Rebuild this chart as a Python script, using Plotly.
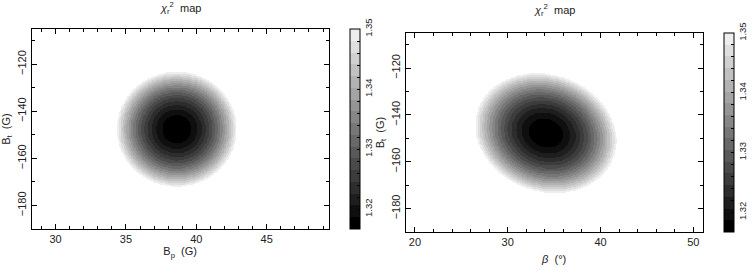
import numpy as np
import plotly.graph_objects as go

# ---- values ----
# colour scale of the chi_r^2 maps
chi_min = 1.3167
chi_max = 1.35
n_bands = 17

# left panel: chi_r^2 vs B_p (G) and B_t (G)
left_center = [38.6, -147.5]          # (B_p, B_t) of the minimum
left_halfwidth = [4.25, 24.4]         # extent where chi_r^2 reaches 1.35
left_xrange = [28.3, 49.4]

# right panel: chi_r^2 vs beta (deg) and B_t (G); tilted ellipse
right_center = [34.1, -147.7]         # (beta, B_t) of the minimum
right_quad = [0.01765, 0.00137, 0.00156]  # a*dx^2 + b*dx*dy + c*dy^2 (=1 on the 1.35 contour)
right_xrange = [19.0, 51.0]

y_range = [-190.0, -105.0]

cbar_tickvals = [1.318, 1.32, 1.322, 1.324, 1.326, 1.328, 1.33, 1.332, 1.334,
                 1.336, 1.338, 1.34, 1.342, 1.344, 1.346, 1.348, 1.35]
cbar_ticktext = ["", "1.32", "", "", "", "", "1.33", "", "", "", "", "1.34",
                 "", "", "", "", "1.35"]

title_text = "<i>χ</i><sub>r</sub><sup>2</sup>  map"
left_xtitle = "B<sub>p</sub>  (G)"
right_xtitle = "<i>β</i>  (°)"
ytitle = "B<sub>t</sub>  (G)"

# ---- build the maps ----
W, H = 753, 273
FONT = "Liberation Sans"
TXT = "#222222"

def grid(xr, yr, nx=420, ny=300):
    x = np.linspace(xr[0], xr[1], nx)
    y = np.linspace(yr[0], yr[1], ny)
    return x, y, np.meshgrid(x, y)

xl, yl, (XL, YL) = grid(left_xrange, y_range)
ql = ((XL - left_center[0]) / left_halfwidth[0]) ** 2 + ((YL - left_center[1]) / left_halfwidth[1]) ** 2
zl = chi_min + (chi_max - chi_min) * ql
zl = np.where(zl > chi_max, np.nan, zl)

xr_, yr_, (XR, YR) = grid(right_xrange, y_range)
dx = XR - right_center[0]
dy = YR - right_center[1]
qr = right_quad[0] * dx ** 2 + right_quad[1] * dx * dy + right_quad[2] * dy ** 2
zr = chi_min + (chi_max - chi_min) * qr
zr = np.where(zr > chi_max, np.nan, zr)

# discrete grey colour scale
cs = []
for i in range(n_bands):
    g = int(round(238 * i / (n_bands - 1)))
    c = f"rgb({g},{g},{g})"
    cs.append([i / n_bands, c])
    cs.append([(i + 1) / n_bands, c])

def cbar(x0, ycen, length):
    return dict(
        x=x0 / W, xanchor="left", y=1 - ycen / H, yanchor="middle",
        len=length / H, lenmode="fraction", thickness=10, thicknessmode="pixels",
        outlinewidth=1, outlinecolor="black", ticks="inside", ticklen=3,
        tickcolor="black", tickvals=cbar_tickvals, ticktext=cbar_ticktext,
        tickangle=-90, tickfont=dict(family=FONT, size=9.5, color=TXT),
        xpad=0, ypad=0, ticklabelposition="outside",
    )

fig = go.Figure()
fig.add_trace(go.Heatmap(x=xl, y=yl, z=zl, zmin=chi_min, zmax=chi_max,
                         colorscale=cs, colorbar=cbar(348, 129, 200),
                         xaxis="x", yaxis="y", hoverongaps=False))
fig.add_trace(go.Heatmap(x=xr_, y=yr_, z=zr, zmin=chi_min, zmax=chi_max,
                         colorscale=cs, colorbar=cbar(727, 132.5, 199),
                         xaxis="x2", yaxis="y2", hoverongaps=False))

axis_common = dict(showline=True, linecolor="black", linewidth=1, mirror="allticks",
                   ticks="inside", ticklen=5, tickcolor="black", showgrid=False,
                   zeroline=False, tickfont=dict(family=FONT, size=11, color=TXT),
                   title_font=dict(family=FONT, size=11, color=TXT))

fig.update_layout(
    width=W, height=H, margin=dict(l=0, r=0, t=0, b=0),
    paper_bgcolor="white", plot_bgcolor="white", showlegend=False,
    xaxis=dict(domain=[25 / W, 326 / W], range=left_xrange, tick0=30, dtick=5,
               minor=dict(dtick=1, ticks="inside", ticklen=3, tickcolor="black"),
               title=dict(text=left_xtitle, standoff=3), anchor="y", **axis_common),
    yaxis=dict(domain=[1 - 229 / H, 1 - 29 / H], range=y_range, tick0=-180, dtick=20,
               minor=dict(dtick=10, ticks="inside", ticklen=3, tickcolor="black"),
               tickangle=-90, title=dict(text=ytitle, standoff=9), anchor="x", **axis_common),
    xaxis2=dict(domain=[404 / W, 705 / W], range=right_xrange, tick0=20, dtick=10,
                minor=dict(dtick=2, ticks="inside", ticklen=3, tickcolor="black"),
                title=dict(text=right_xtitle, standoff=8), anchor="y2", **axis_common),
    yaxis2=dict(domain=[1 - 232 / H, 1 - 33 / H], range=y_range, tick0=-180, dtick=20,
                minor=dict(dtick=10, ticks="inside", ticklen=3, tickcolor="black"),
                tickangle=-90, title=dict(text=ytitle, standoff=3), anchor="x2", **axis_common),
    annotations=[
        dict(text=title_text, x=175.5 / W, y=1 - 8 / H, xref="paper", yref="paper",
             showarrow=False, xanchor="center", yanchor="middle",
             font=dict(family=FONT, size=11, color=TXT)),
        dict(text=title_text, x=555 / W, y=1 - 10 / H, xref="paper", yref="paper",
             showarrow=False, xanchor="center", yanchor="middle",
             font=dict(family=FONT, size=11, color=TXT)),
    ],
)

fig.write_html("out.html")
